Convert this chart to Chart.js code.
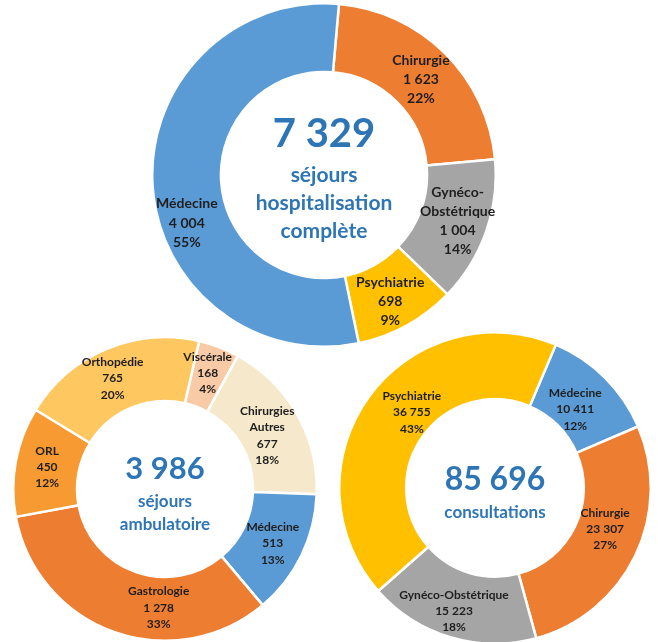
<!DOCTYPE html>
<html>
<head>
<meta charset="utf-8">
<script src="https://cdn.jsdelivr.net/npm/chart.js@4"></script>
<style>
    body { margin: 0; background: #fff; }
    #wrap { position: relative; width: 658px; height: 642px; overflow: hidden; }
    canvas { position: absolute; }
</style>
</head>
<body>
<div id="wrap">
    <canvas id="hosp" width="346" height="346" style="left:151px; top:2px;"></canvas>
    <canvas id="ambu" width="306" height="306" style="left:12px; top:336px;"></canvas>
    <canvas id="cons" width="314" height="314" style="left:338px; top:331px;"></canvas>
</div>
<script>
// Hospitalisation complète
const hospLabels = ['Chirurgie', ['Gynéco-', 'Obstétrique'], 'Psychiatrie', 'Médecine'];
const hospValues = [1623, 1004, 698, 4004];
const hospPercents = ['22%', '14%', '9%', '55%'];
const hospColors = ['#ED7D31', '#A5A5A5', '#FFC000', '#5B9BD5'];
const hospCenter = ['7 329', 'séjours', 'hospitalisation', 'complète'];

// Ambulatoire
const ambuLabels = ['Viscérale', ['Chirurgies', 'Autres'], 'Médecine', 'Gastrologie', 'ORL', 'Orthopédie'];
const ambuValues = [168, 677, 513, 1278, 450, 765];
const ambuPercents = ['4%', '18%', '13%', '33%', '12%', '20%'];
const ambuColors = ['#F8CBA6', '#F5E8CB', '#5B9BD5', '#ED7D31', '#F79A32', '#FFC75F'];
const ambuCenter = ['3 986', 'séjours', 'ambulatoire'];

// Consultations
const consLabels = ['Médecine', 'Chirurgie', 'Gynéco-Obstétrique', 'Psychiatrie'];
const consValues = [10411, 23307, 15223, 36755];
const consPercents = ['12%', '27%', '18%', '43%'];
const consColors = ['#5B9BD5', '#ED7D31', '#A5A5A5', '#FFC000'];
const consCenter = ['85 696', 'consultations'];

const FONT = 'Lato, "Open Sans", sans-serif';
const BLUE = '#2E75B6';

function fmt(n) {
    return String(n).replace(/\B(?=(\d{3})+(?!\d))/g, '\u202F');
}

// draws the label/value/percent inside each slice + the big text in the hole
const donutText = {
    id: 'donutText',
    afterDatasetsDraw(chart, args, opts) {
        const ctx = chart.ctx;
        const meta = chart.getDatasetMeta(0);
        const values = chart.data.datasets[0].data;
        ctx.save();
        ctx.textAlign = 'center';
        ctx.textBaseline = 'middle';
        ctx.fillStyle = '#1E1E1E';
        ctx.font = `bold ${opts.labelSize}px ${FONT}`;
        meta.data.forEach((arc, i) => {
            const p = arc.tooltipPosition();
            const nudge = (opts.nudge && opts.nudge[i]) || [0, 0];
            let lines = [].concat(chart.data.labels[i]);
            lines = lines.concat([fmt(values[i]), opts.percents[i]]);
            const lh = opts.labelSize * 1.36;
            const y0 = p.y + nudge[1] - (lines.length - 1) * lh / 2;
            lines.forEach((t, k) => ctx.fillText(t, p.x + nudge[0], y0 + k * lh));
        });

        const cx = meta.data[0].x;
        const cy = meta.data[0].y;
        const c = opts.center;
        ctx.fillStyle = BLUE;
        const total_h = opts.bigSize * 1.0 + (c.length - 1) * opts.subSize * opts.gap;
        let y = cy - total_h / 2 + opts.bigSize * 0.5 + opts.shift;
        ctx.font = `bold ${opts.bigSize}px ${FONT}`;
        ctx.fillText(c[0], cx, y);
        y += opts.bigSize * 0.5 + opts.subSize * 1.0;
        ctx.font = `bold ${opts.subSize}px ${FONT}`;
        for (let k = 1; k < c.length; k++) {
            ctx.fillText(c[k], cx, y);
            y += opts.subSize * opts.gap;
        }
        ctx.restore();
    }
};

function makeDonut(id, labels, values, colors, rotation, cutout, textOpts) {
    return new Chart(document.getElementById(id), {
        type: 'doughnut',
        data: {
            labels: labels,
            datasets: [{
                data: values,
                backgroundColor: colors,
                borderColor: '#fff',
                borderWidth: 2.5
            }]
        },
        options: {
            responsive: false,
            animation: false,
            rotation: rotation,
            cutout: cutout,
            layout: { padding: 0 },
            plugins: {
                legend: { display: false },
                tooltip: { enabled: false },
                donutText: textOpts
            }
        },
        plugins: [donutText]
    });
}

makeDonut('hosp', hospLabels, hospValues, hospColors, 5, '60%', {
    labelSize: 14, bigSize: 40, subSize: 21, gap: 1.32, center: hospCenter, shift: 1,
    percents: hospPercents,
    nudge: [[0, 2], [4, 0], [0, 6], [0, 40]]
});
makeDonut('ambu', ambuLabels, ambuValues, ambuColors, 13, '58%', {
    labelSize: 12, bigSize: 31, subSize: 17, gap: 1.35, center: ambuCenter, shift: 3,
    percents: ambuPercents,
    nudge: [[0, -4], [-2, 6], [0, 2], [34, 6], [0, 0], [-6, 0]]
});
makeDonut('cons', consLabels, consValues, consColors, 23, '57%', {
    labelSize: 12, bigSize: 32, subSize: 17, gap: 1.35, center: consCenter, shift: 3,
    percents: consPercents,
    nudge: [[-6, 8], [0, -12], [-6, 6], [16, -4]]
});
</script>
</body>
</html>
